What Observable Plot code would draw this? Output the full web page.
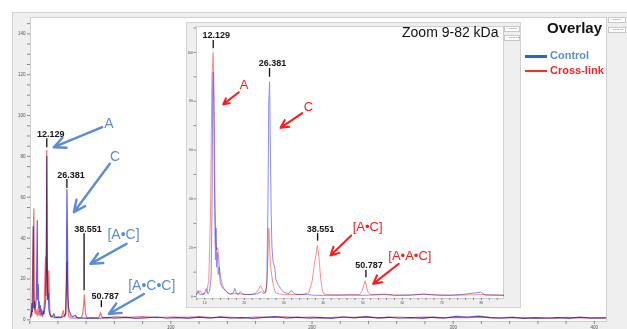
<!DOCTYPE html>
<html><head><meta charset="utf-8">
<script src="https://cdn.jsdelivr.net/npm/d3@7"></script>
<script src="https://cdn.jsdelivr.net/npm/@observablehq/plot@0.6"></script>
<style>
body{margin:0;background:#fff;font-family:"Liberation Sans",Arial,sans-serif;}
#wrap{position:relative;width:627px;height:329px;overflow:hidden;background:#fff;}
.panel{position:absolute;background:#efefef;border:1px solid #d2d2d2;box-sizing:border-box;}
.abs{position:absolute;}
.tiny{position:absolute;background:#fff;border:1px solid #c8c8c8;box-sizing:border-box;font-size:2.4px;line-height:4px;color:#666;white-space:nowrap;padding-left:1px;}
</style></head><body>
<div id="wrap">
  <div class="panel" style="left:12px;top:12px;width:640px;height:340px"></div>
  <div id="main" class="abs" style="left:0;top:0"></div>
  <div class="panel" style="left:186px;top:22px;width:335px;height:286px"></div>
  <div id="inset" class="abs" style="left:186px;top:22px"></div>
  <div id="legend"></div>
</div>
<script>
// ---------- data (kDa, relative intensity) ----------
const seriesNames = ["Control", "Cross-link"];
const seriesColors = ["#1f6cc6", "#ff2a2a"];
const seriesTextColors = ["#5b8dd6", "#ff1f1f"];

const mainControl = [[0.6,1.5],[1.2,3],[1.6,8],[2.0,4],[2.3,9],[2.55,45.7],[2.8,6],[3.3,9],[3.8,5],[4.3,7],[4.8,12],[5.1,30],[5.4,48.6],[5.7,10],[6.1,17.3],[6.4,6],[6.8,9],[7.2,4],[7.6,7],[8.0,3],[8.5,5],[9.0,2.5],[9.6,4],[10.2,3],[10.8,6],[11.4,10],[11.8,30],[12.13,80],[12.4,30],[12.8,10],[13.2,13],[13.6,5],[14.2,3],[14.8,2],[15.5,1.5],[16.5,2],[17.2,3],[17.8,1.5],[19,1.2],[20.5,1.5],[22,1],[23.5,1.5],[24.5,2],[25.5,3],[26.0,20],[26.4,63.8],[26.8,40],[27.1,12],[27.5,6],[28,4.5],[28.6,3.5],[29.3,2],[30.5,1.5],[31.8,2],[32.5,2.2],[33.3,1.2],[35,0.8],[38,1],[40,0.7],[45,1],[50,0.8],[55,1.2],[60,0.8],[68,1.2],[75,0.7],[82,1],[90,1.4],[97,0.8],[105,1.1],[112,0.7],[120,1.3],[128,0.9],[135,1.5],[142,0.8],[150,1.1],[158,0.7],[166,1.2],[174,1.6],[182,0.9],[190,1.3],[198,0.8],[206,1.1],[214,0.7],[222,1.4],[230,1],[238,1.6],[246,0.9],[254,1.3],[262,0.8],[270,1.1],[278,0.7],[286,1.3],[294,0.9],[302,1.7],[310,1.4],[318,1.8],[326,1.1],[334,0.8],[342,1.2],[350,0.7],[358,1],[366,0.8],[374,1.1],[382,0.7],[390,1.3],[398,0.8],[408,1]];

const mainCross = [[0.6,1],[1.2,4],[1.6,2],[2.0,20],[2.5,40],[3.0,54.3],[3.3,15],[3.7,4],[4.2,3],[4.6,5],[5.0,3],[5.5,2],[6.0,6],[6.5,2.5],[7.0,4],[7.5,2],[8.2,3],[9.0,1.5],[9.8,3],[10.4,8],[10.8,20],[11.26,30.6],[11.6,12],[11.9,40],[12.13,83],[12.4,35],[12.8,10],[13.2,15],[13.6,24],[14.0,10],[14.5,3],[15,2],[16,1.5],[17,1.2],[18,1],[19.5,1.2],[21,1],[22.5,1.5],[23.3,3],[23.8,4.6],[24.3,3],[24.9,1.5],[25.6,3],[26.1,15],[26.5,28.2],[26.9,15],[27.3,4],[27.8,1.5],[29,1],[31,0.8],[33,1],[35,1],[36.5,1.2],[37.5,2.5],[38.2,7],[38.7,12.3],[39.2,7],[39.7,2.5],[40.5,1],[43,1],[46,0.8],[48.5,1],[49.5,1.8],[50.2,3.6],[50.9,1.8],[52,1],[55,1],[60,1.5],[70,1.2],[80,1.6],[90,1.1],[100,1.4],[110,1.2],[120,1.5],[130,1.1],[140,1.3],[150,1],[160,1.4],[170,1.2],[180,1.5],[190,1.1],[200,1.3],[210,1],[220,1.4],[230,1.2],[240,1.3],[250,1],[260,1.4],[270,1.1],[280,1.3],[290,1],[300,1.2],[310,1.1],[320,1.3],[330,1],[340,1.2],[350,1],[360,1.1],[370,0.9],[380,1.2],[390,1],[400,1.1],[408,1]];

const insetControl = [[7.9,0.8],[8.3,2.5],[8.6,1],[9.2,0.8],[9.8,1],[10.4,3.3],[10.8,1],[11.2,2],[11.6,8],[11.85,40],[12.0,85],[12.13,92],[12.3,70],[12.5,35],[12.7,15],[12.85,28],[13.0,12],[13.2,18],[13.4,9],[13.6,12],[13.9,6],[14.3,4],[14.8,3],[15.3,2.5],[15.8,1.5],[16.5,1],[17.2,1.5],[17.6,3.3],[18,1.2],[18.6,1],[19,2],[19.5,1],[20.5,0.8],[22,0.8],[23,1],[23.8,1.5],[24.3,2],[24.8,1.2],[25.3,1.5],[25.7,5],[26.0,40],[26.2,80],[26.4,88],[26.6,60],[26.8,34],[27.0,20],[27.3,14],[27.7,12],[28.0,7],[28.5,5],[29.2,3.3],[29.8,2],[30.5,1.5],[31.3,1.2],[31.8,2.5],[32.2,2],[32.8,1],[34,0.8],[36,0.8],[38,0.5],[40,0.5],[45,0.6],[50,0.5],[55.7,0.8],[58,0.5],[62,0.6],[65.4,1],[68,0.6],[72,0.5],[75,0.8],[79.8,1.8],[81,0.6],[85.6,0.5]];

const insetCross = [[7.9,1],[8.3,1.5],[8.8,2.5],[9.3,1],[10,1.2],[10.5,2],[11.0,6.5],[11.45,34],[11.8,90],[12.13,100],[12.4,80],[12.6,40],[12.8,22],[13.0,19],[13.3,20],[13.7,12],[14.0,8],[14.4,5],[14.8,3.5],[15.2,2.5],[15.8,1.5],[16.5,1],[17.5,1.2],[18.5,1],[19.5,1],[20.5,0.8],[22,1],[23,1.5],[23.6,3],[24.1,4.5],[24.6,3],[25.0,1.5],[25.5,2],[25.8,8],[26.2,28],[26.6,13],[27.0,8],[27.4,4],[27.9,1.5],[29,1],[31,0.8],[33,0.8],[35,1],[36.3,1.5],[37.2,6.5],[37.8,14],[38.5,20.9],[38.9,16],[39.3,8],[39.7,3],[40.0,1.2],[41,0.8],[44,0.6],[47,0.8],[49.2,0.8],[49.85,2.5],[50.6,6.5],[51.0,3.5],[51.3,1.8],[52,0.8],[55.7,1],[58,0.6],[62,0.6],[65.4,1],[70,0.6],[75,0.6],[80,0.8],[85.6,0.6]];

// peak labels
const peakLabels = ["12.129", "26.381", "38.551", "50.787"];
const peakKDa = [12.129, 26.381, 38.551, 50.787];
const mainTickLow = [84.3, 64.3, 14.3, 6.0];
const mainTickHigh = [88.7, 68.7, 42.2, 9.4];
const insetTickLow = [101.5, 89.8, 22.7, 7.7];
const insetTickHigh = [104.9, 93.4, 25.8, 10.7];

// species annotations
const mainTags = ["A", "C", "[A•C]", "[A•C•C]"];
const mainTagX = [56.2, 60.5, 66.5, 86.5];
const mainTagY = [96.1, 79.9, 41.8, 17.0];
const mainArrowFrom = [[51.4,94.3],[56.8,76.4],[68.6,37.2],[80.9,12.7]];
const mainArrowTo = [[17.1,84.5],[31.3,52.7],[43.1,27.4],[56.1,2.9]];

const insetTags = ["A", "C", "[A•C]", "[A•A•C]"];
const insetTagX = [19.92, 36.2, 51.2, 61.9];
const insetTagY = [86.9, 77.7, 28.4, 16.8];
const insetArrowFrom = [[18.6,83.7],[34.66,75.1],[47.06,25.0],[59.1,13.4]];
const insetArrowTo = [[14.66,78.7],[29.16,69.1],[41.82,16.8],[52.6,5.2]];

const insetTitle = "Zoom 9-82 kDa";
const overlayTitle = "Overlay";

// ---------- helpers ----------
const peaks = (low, high) => peakLabels.map((t, i) => ({t, x: peakKDa[i], lo: low[i], hi: high[i]}));
const tags = (names, xs, ys, from, to) => names.map((t, i) => ({t, x: xs[i], y: ys[i], x1: from[i][0], y1: from[i][1], x2: to[i][0], y2: to[i][1]}));

// ---------- main chart ----------
const mainPeaks = peaks(mainTickLow, mainTickHigh);
const mainAnn = tags(mainTags, mainTagX, mainTagY, mainArrowFrom, mainArrowTo);

const main = Plot.plot({
  width: 627, height: 329,
  marginLeft: 30, marginRight: 21, marginTop: 17, marginBottom: 8,
  style: {background: "transparent", fontFamily: "Liberation Sans, Arial, sans-serif"},
  x: {domain: [0.6, 408.6]},
  y: {domain: [-0.8, 148]},
  marks: [
    Plot.frame({fill: "white", stroke: "#cfcfcf"}),
    Plot.axisY({ticks: d3.range(0, 148, 5), tickFormat: d => d % 20 === 0 ? d : "", tickSize: 3, fontSize: 4.5, fill: "#555", stroke: "#888", label: null, tickPadding: 2}),
    Plot.axisX({ticks: d3.range(0, 409, 20), tickFormat: d => d % 100 === 0 && d > 0 ? d : "", tickSize: 3, fontSize: 4.5, fill: "#555", stroke: "#888", label: null, tickPadding: 1}),
    Plot.line(mainCross, {x: d => d[0], y: d => d[1], stroke: "#ff5c5c", strokeWidth: 1.2, strokeOpacity: 0.9}),
    Plot.line(mainControl, {x: d => d[0], y: d => d[1], stroke: "#2a2ae6", strokeWidth: 1.2, strokeOpacity: 0.75, mixBlendMode: "multiply"}),
    Plot.ruleX(mainPeaks, {x: "x", y1: "lo", y2: "hi", stroke: "#111", strokeWidth: 1.3}),
    Plot.text(mainPeaks, {x: "x", y: "hi", text: "t", dx: 4, dy: -2, lineAnchor: "bottom", fontSize: 9, fontWeight: "bold", fill: "#151515"}),
    Plot.arrow(mainAnn, {x1: "x1", y1: "y1", x2: "x2", y2: "y2", stroke: "#5b8dd6", strokeWidth: 2.4, headLength: 8, headAngle: 50}),
    Plot.text(mainAnn, {x: "x", y: "y", text: "t", fontSize: 14, fill: "#5b8dd6"})
  ]
});
document.getElementById("main").append(main);

// ---------- inset ----------
const insetPeaks = peaks(insetTickLow, insetTickHigh);
const insetAnn = tags(insetTags, insetTagX, insetTagY, insetArrowFrom, insetArrowTo);

const inset = Plot.plot({
  width: 335, height: 286,
  marginLeft: 10, marginRight: 18, marginTop: 4, marginBottom: 10,
  style: {background: "transparent", fontFamily: "Liberation Sans, Arial, sans-serif"},
  x: {domain: [7.9, 85.6]},
  y: {domain: [-0.8, 110.6]},
  marks: [
    Plot.frame({fill: "white", stroke: "#cfcfcf"}),
    Plot.axisY({ticks: d3.range(0, 111, 10), tickFormat: d => d % 20 === 0 ? d : "", tickSize: 2.5, fontSize: 3.5, fill: "#555", stroke: "#888", label: null, tickPadding: 1}),
    Plot.axisX({ticks: d3.range(8, 86, 2), tickFormat: d => d % 10 === 0 ? d : "", tickSize: 2, fontSize: 3.5, fill: "#555", stroke: "#888", label: null, tickPadding: 1}),
    Plot.line(insetCross, {x: d => d[0], y: d => d[1], stroke: "#ff8c8c", strokeWidth: 1, mixBlendMode: "multiply"}),
    Plot.line(insetControl, {x: d => d[0], y: d => d[1], stroke: "#8a8aff", strokeWidth: 1, mixBlendMode: "multiply"}),
    Plot.ruleX(insetPeaks, {x: "x", y1: "lo", y2: "hi", stroke: "#111", strokeWidth: 1.3}),
    Plot.text(insetPeaks, {x: "x", y: "hi", text: "t", dx: 3, dy: -2, lineAnchor: "bottom", fontSize: 9, fontWeight: "bold", fill: "#151515"}),
    Plot.arrow(insetAnn, {x1: "x1", y1: "y1", x2: "x2", y2: "y2", stroke: "#ff1a1a", strokeWidth: 2, headLength: 7, headAngle: 55}),
    Plot.text(insetAnn, {x: "x", y: "y", text: "t", fontSize: 13, fill: "#ff1a1a"}),
    Plot.text([insetTitle], {frameAnchor: "top-right", text: d => d, dx: -5, dy: 1, lineAnchor: "top", fontSize: 14, fill: "#111"})
  ]
});
document.getElementById("inset").append(inset);

// ---------- legend & small boxes ----------
const wrap = document.getElementById("wrap");
function add(html, css, cls) { const d = document.createElement("div"); d.innerHTML = html; d.style.cssText = css; if (cls) d.className = cls; wrap.append(d); return d; }
add(overlayTitle, "position:absolute;left:547px;top:19px;font-weight:bold;font-size:15px;color:#111;");
seriesNames.forEach((n, i) => {
  const y = 56 + i * 15;
  add("", `position:absolute;left:525px;top:${y - 1}px;width:22px;height:${i === 0 ? 2.5 : 1.5}px;background:${seriesColors[i]};`);
  add(n, `position:absolute;left:550px;top:${y - 7}px;font-weight:bold;font-size:11px;color:${seriesTextColors[i]};`);
  // tiny legend boxes (main and inset)
  add(`<span style="color:${seriesColors[i]}">—</span> ${n}`, `left:608px;top:${17 + i * 10}px;width:18px;height:6px;`, "tiny");
  add(`<span style="color:${seriesColors[i]}">—</span> ${n}`, `left:504px;top:${26 + i * 9}px;width:16px;height:6px;`, "tiny");
});
</script>
</body></html>
